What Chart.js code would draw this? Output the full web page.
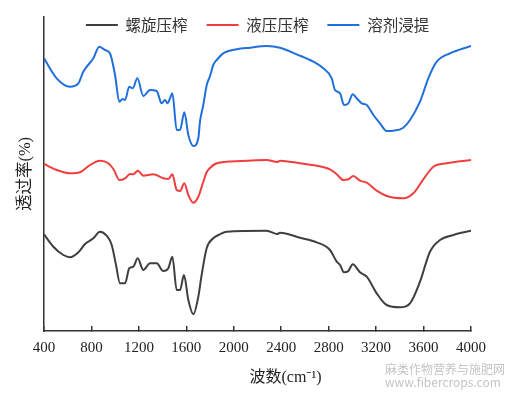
<!DOCTYPE html>
<html>
<head>
<meta charset="utf-8">
<script src="https://cdn.jsdelivr.net/npm/chart.js@4/dist/chart.umd.min.js"></script>
<style>
  html, body { margin: 0; padding: 0; background: #fff; }
  #wrap { position: relative; width: 509px; height: 395px; }
  #mark { position: absolute; left: 385px; top: 362px; color: #c4c4c4;
          font: 12px "Noto Sans CJK SC", "DejaVu Sans", sans-serif; line-height: 13px; }
</style>
</head>
<body>
<div id="wrap">
  <canvas id="c" width="509" height="395"></canvas>
  <div id="mark">麻类作物营养与施肥网<br>www.fibercrops.com</div>
</div>
<script>
// wavenumber (cm-1) / transmittance (a.u., offset per curve)
const seriesNames = ["螺旋压榨", "液压压榨", "溶剂浸提"];
const xTicks = [400, 800, 1200, 1600, 2000, 2400, 2800, 3200, 3600, 4000];

const screwX = [400, 479, 563, 619, 690, 746, 816, 872, 928, 971, 1007, 1041, 1083, 1119, 1153, 1190, 1237, 1294, 1350, 1406, 1448, 1482, 1519, 1547, 1580, 1617, 1659, 1701, 1729, 1772, 1827, 1884, 1940, 2278, 2367, 2390, 2558, 2699, 2811, 2868, 2896, 2929, 2966, 3003, 3064, 3121, 3205, 3289, 3401, 3486, 3570, 3654, 3739, 3851, 4000];
const screwY = [96.7, 84.3, 76, 73.7, 78.7, 87, 92.7, 99.3, 95.3, 86, 66, 47.7, 47.7, 62.7, 64.3, 72.7, 61, 67.7, 67.7, 60, 62.7, 74.3, 41, 41, 56, 31, 16.7, 34.3, 56, 83, 92.7, 96.7, 99.3, 100.3, 97, 98.3, 93.3, 88.7, 81, 69.3, 66, 58.7, 60, 66.7, 58.7, 54.3, 37.7, 26, 23.7, 27.7, 49.3, 79.3, 91, 96, 100.3];

const hydraX = [400, 507, 619, 703, 788, 872, 942, 990, 1035, 1083, 1125, 1153, 1192, 1237, 1322, 1406, 1448, 1482, 1519, 1547, 1583, 1617, 1659, 1701, 1743, 1772, 1800, 1842, 1940, 2109, 2278, 2367, 2390, 2558, 2699, 2811, 2868, 2924, 2966, 3008, 3064, 3121, 3205, 3289, 3429, 3514, 3598, 3683, 3795, 4000];
const hydraY = [167, 161, 157.7, 158.7, 166, 170.3, 167.7, 161, 151, 152.7, 157, 156.7, 160.3, 155.3, 156.7, 152.7, 152, 156.7, 141, 140, 147.7, 136, 128.3, 134.3, 149.3, 159, 163, 167, 169.3, 170.3, 171, 169, 170.3, 167.7, 165.3, 161.7, 156.7, 151, 151.7, 155, 150.3, 148.3, 140.3, 135, 132.7, 137.7, 151.7, 164.3, 167.7, 171];

const solvX = [400, 507, 619, 690, 731, 816, 866, 914, 956, 999, 1035, 1063, 1083, 1119, 1148, 1187, 1237, 1294, 1350, 1392, 1420, 1443, 1462, 1482, 1519, 1547, 1583, 1617, 1659, 1701, 1715, 1743, 1772, 1800, 1827, 1856, 1912, 2025, 2137, 2278, 2390, 2530, 2671, 2755, 2826, 2853, 2896, 2929, 2966, 3003, 3036, 3079, 3121, 3177, 3233, 3289, 3345, 3429, 3486, 3570, 3640, 3711, 3823, 4000];
const solvY = [272.7, 252.7, 244.3, 247.7, 259.3, 272.7, 284.3, 281, 277.7, 256, 229.3, 232, 231, 244.3, 242.7, 252.7, 235, 241, 240, 227.7, 231, 227.7, 232.7, 237.7, 201, 201, 218.7, 196, 185, 192.7, 209.3, 226, 246, 255, 266, 271, 277.7, 281.7, 283.3, 285, 283.3, 276.7, 269.3, 262.7, 252.7, 241, 237.7, 226, 227.7, 236.7, 232.7, 227.7, 226, 216, 207.7, 200, 200.3, 203.3, 211, 229.3, 252.7, 269.3, 277.7, 285];

const colors = ["#3f3f3f", "#ef3e3e", "#1f6fdc"];
const toPts = (xs, ys) => xs.map((x, i) => ({ x, y: ys[i] }));
const series = [toPts(screwX, screwY), toPts(hydraX, hydraY), toPts(solvX, solvY)];

const LEG_PAD = 19, LEG_FONT = 15.5;

// legend sits inside the plot, so it takes no layout height
const legendInside = {
  id: "legendInside",
  beforeLayout(chart) {
    const lg = chart.legend;
    if (lg && !lg._inside) {
      const orig = lg.update.bind(lg);
      lg.update = function (...a) { orig(...a); this.height = 0; };
      lg._inside = true;
    }
  },
  afterLayout(chart) {
    const lg = chart.legend;
    if (!lg) return;
    lg.top = 25 - LEG_PAD - LEG_FONT / 2;
    lg.height = 60;
    lg.bottom = lg.top + 60;
  }
};

const serif = "'Liberation Serif', 'Noto Sans CJK SC', serif";

new Chart(document.getElementById("c").getContext("2d"), {
  type: "line",
  data: {
    datasets: series.map((d, i) => ({
      label: seriesNames[i],
      data: d,
      borderColor: colors[i],
      backgroundColor: colors[i],
      borderWidth: 2,
      pointRadius: 0,
      cubicInterpolationMode: "monotone",
      fill: false
    }))
  },
  options: {
    responsive: false,
    animation: false,
    layout: { padding: { left: 9, right: 38, top: 17, bottom: 0 } },
    scales: {
      x: {
        type: "linear",
        min: 400, max: 4000,
        afterBuildTicks: s => { s.ticks = xTicks.map(v => ({ value: v })); },
        afterFit: s => { s.height = 64; },
        border: { display: true, color: "#333", width: 1.5 },
        grid: { drawOnChartArea: false, drawTicks: true, tickLength: -5, color: "#333", lineWidth: 1.5 },
        ticks: { color: "#222", font: { family: serif, size: 15 }, padding: 13, maxRotation: 0, autoSkip: false,
                 callback: v => String(v) },
        title: { display: true, text: "\u2003\u2003\u2003\u2002波数(cm⁻¹)", color: "#222",
                 font: { family: serif, size: 16 }, padding: { top: 0, bottom: 8 } }
      },
      y: {
        min: 0, max: 314,
        afterFit: s => { s.width = 35; },
        border: { display: true, color: "#333", width: 1.5 },
        grid: { display: false },
        ticks: { display: false },
        title: { display: true, text: "透过率(%)", color: "#222",
                 font: { family: serif, size: 16.5 }, padding: { top: 7, bottom: 0 } }
      }
    },
    plugins: {
      legend: {
        position: "top",
        fullSize: false,
        align: "center",
        labels: {
          boxWidth: 32, boxHeight: 0, padding: LEG_PAD,
          color: "#333",
          font: { family: "'Noto Sans CJK SC', sans-serif", size: LEG_FONT }
        }
      },
      tooltip: { enabled: false }
    }
  },
  plugins: [legendInside]
});
</script>
</body>
</html>
